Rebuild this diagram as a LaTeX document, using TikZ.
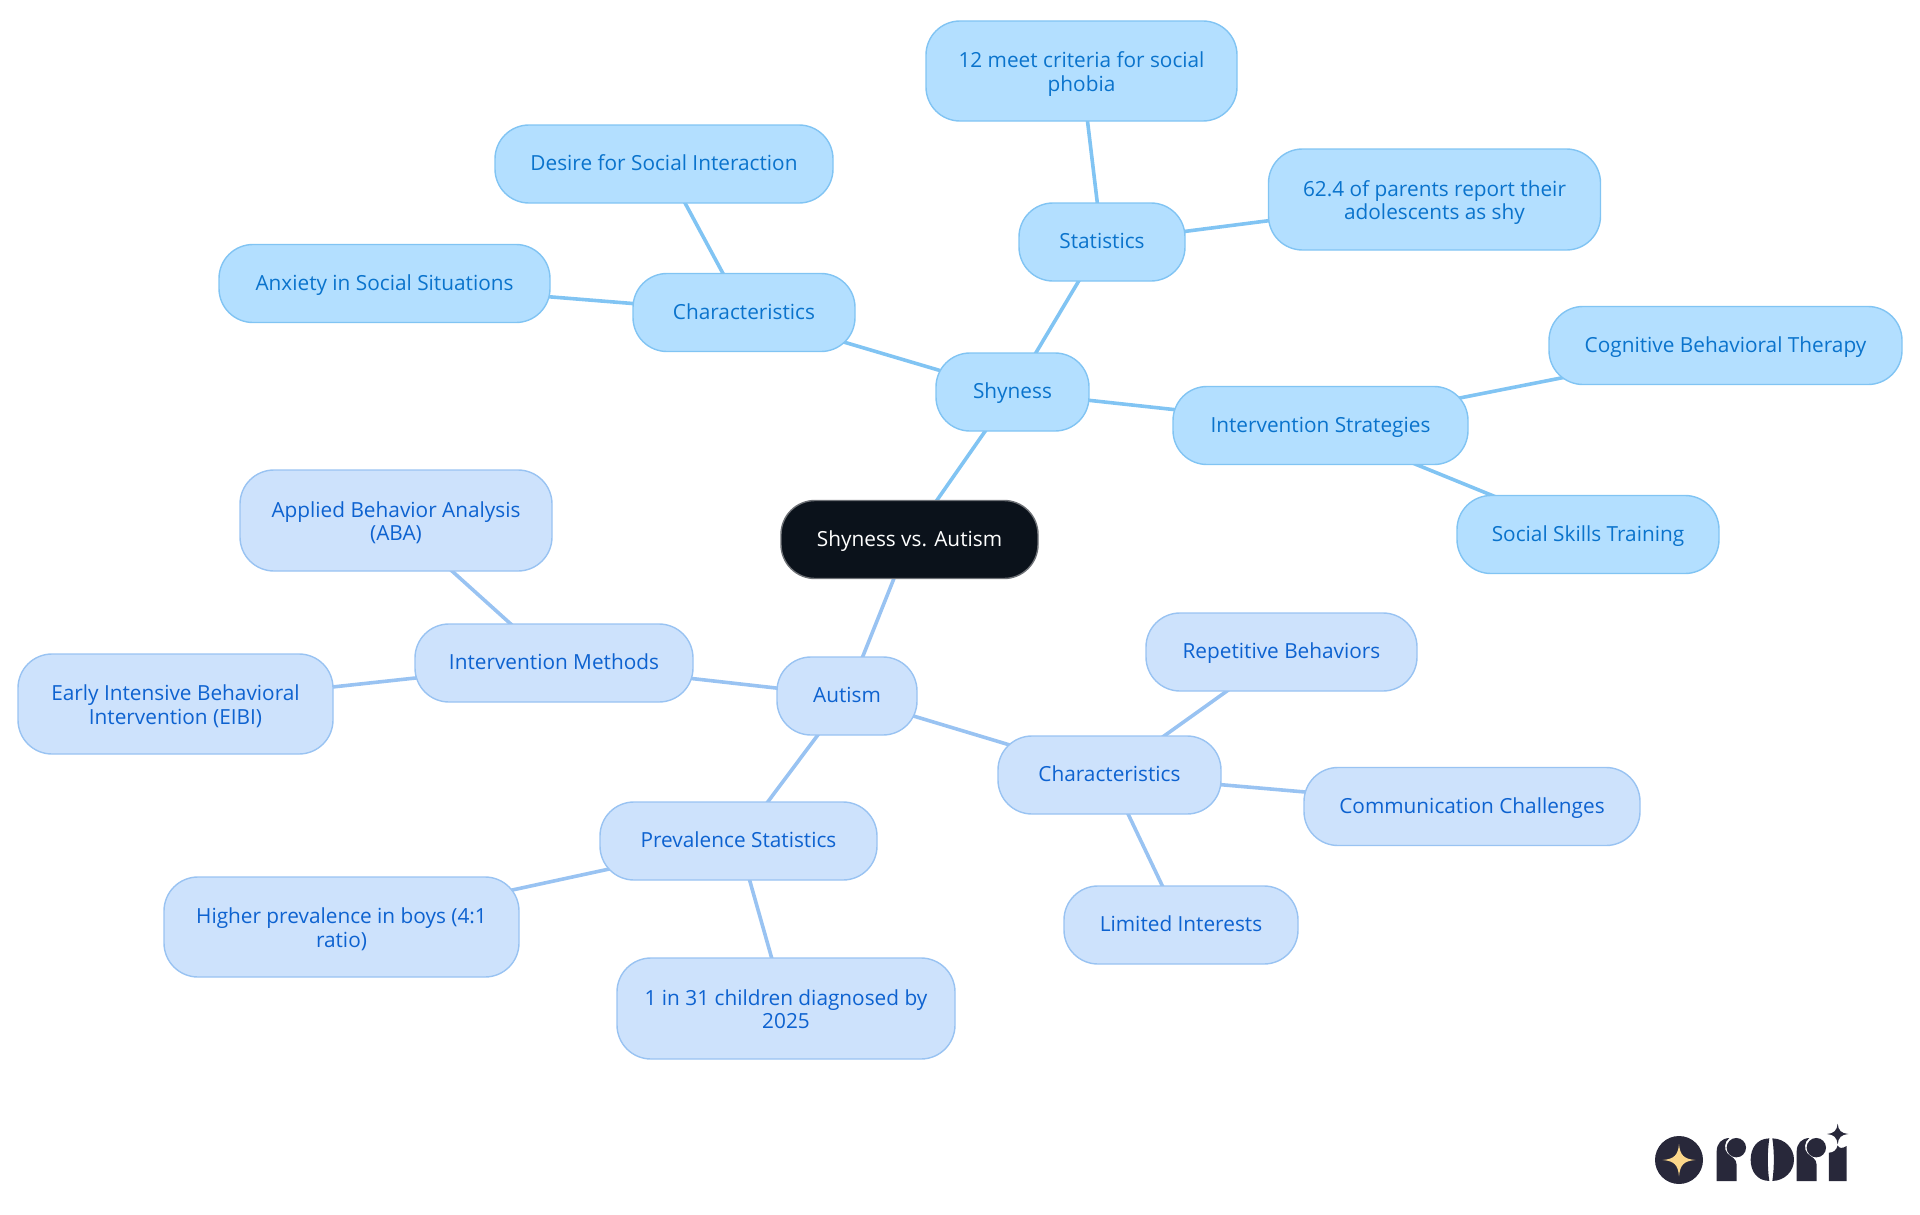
\documentclass[tikz,border=0pt]{standalone}
\usepackage{fontspec}
\setmainfont{Open Sans}[Scale=1]
\usetikzlibrary{backgrounds}
\definecolor{bfill}{HTML}{B3DFFF}
\definecolor{bline}{HTML}{81C4F3}
\definecolor{btext}{HTML}{0A73CC}
\definecolor{lfill}{HTML}{CDE2FC}
\definecolor{lline}{HTML}{99C3F2}
\definecolor{ltext}{HTML}{0D62D0}
\definecolor{rootfill}{HTML}{0B121B}
\definecolor{rootline}{HTML}{6E7176}
\definecolor{logodark}{HTML}{28283A}
\definecolor{logostar}{HTML}{FBD78A}
\newcommand{\lowstrut}{\rule[-0.22\baselineskip]{0pt}{\baselineskip}}
\newcommand{\tallstrut}{\rule{0pt}{22pt}}
\tikzset{
  base/.style={rounded corners=34pt,inner sep=0pt,line width=1.4pt,align=center,
    font=\fontsize{20.8}{23.5}\selectfont,
    execute at begin node={\lowstrut},execute at end node={\lowstrut}},
  bnode/.style={base,draw=bline,fill=bfill,text=btext},
  lnode/.style={base,draw=lline,fill=lfill,text=ltext},
  rootnode/.style={base,draw=rootline,fill=rootfill,text=white},
  bedge/.style={draw=bline,line width=3.6pt},
  ledge/.style={draw=lline,line width=3.6pt},
}
\begin{document}
\begin{tikzpicture}[x=1pt,y=-1pt]
\useasboundingbox (0,0) rectangle (1920,1215);
\node[rootnode,minimum width=257pt,minimum height=78pt] (root) at (909.5,539.5) {Shyness vs. Autism};
\node[bnode,minimum width=153pt,minimum height=78pt] (shy) at (1012.5,392) {Shyness};
\node[bnode,minimum width=222pt,minimum height=78pt] (shychar) at (744,312.5) {Characteristics};
\node[bnode,minimum width=166pt,minimum height=78pt] (stats) at (1102,242) {Statistics};
\node[bnode,minimum width=295pt,minimum height=78pt] (shyint) at (1320.5,425.5) {Intervention Strategies};
\node[bnode,minimum width=311pt,minimum height=100pt] (meet) at (1081.5,71) {\tallstrut 12 meet criteria for social\\phobia};
\node[bnode,minimum width=332pt,minimum height=101pt] (parents) at (1434.5,199.5) {\tallstrut 62.4 of parents report their\\adolescents as shy};
\node[bnode,minimum width=338pt,minimum height=78pt] (desire) at (664,164) {Desire for Social Interaction};
\node[bnode,minimum width=331pt,minimum height=78pt] (anxiety) at (384.5,283.5) {Anxiety in Social Situations};
\node[bnode,minimum width=353pt,minimum height=78pt] (cbt) at (1725.5,345.5) {Cognitive Behavioral Therapy};
\node[bnode,minimum width=262pt,minimum height=78pt] (sst) at (1588,534.5) {Social Skills Training};
\node[lnode,minimum width=140pt,minimum height=78pt] (autism) at (847,696) {Autism};
\node[lnode,minimum width=277pt,minimum height=78pt] (prev) at (738.5,841) {Prevalence Statistics};
\node[lnode,minimum width=278pt,minimum height=78pt] (autint) at (554,663) {Intervention Methods};
\node[lnode,minimum width=223pt,minimum height=78pt] (autchar) at (1109.5,775) {Characteristics};
\node[lnode,minimum width=312pt,minimum height=101pt] (aba) at (396,520.5) {\tallstrut Applied Behavior Analysis\\(ABA)};
\node[lnode,minimum width=315pt,minimum height=100pt] (eibi) at (175.5,704) {\tallstrut Early Intensive Behavioral\\Intervention (EIBI)};
\node[lnode,minimum width=271pt,minimum height=78pt] (rep) at (1281.5,652) {Repetitive Behaviors};
\node[lnode,minimum width=336pt,minimum height=78pt] (comm) at (1472,806.5) {Communication Challenges};
\node[lnode,minimum width=234pt,minimum height=78pt] (lim) at (1181,925) {Limited Interests};
\node[lnode,minimum width=355pt,minimum height=100pt] (boys) at (341.5,927) {\tallstrut Higher prevalence in boys (4:1\\ratio)};
\node[lnode,minimum width=338pt,minimum height=101pt] (diag) at (786,1008.5) {\tallstrut 1 in 31 children diagnosed by\\2025};
\begin{scope}[on background layer]
\draw[bedge] (root.center) -- (shy.center);
\draw[bedge] (shy.center) -- (shychar.center);
\draw[bedge] (shy.center) -- (stats.center);
\draw[bedge] (shy.center) -- (shyint.center);
\draw[bedge] (stats.center) -- (meet.center);
\draw[bedge] (stats.center) -- (parents.center);
\draw[bedge] (shychar.center) -- (desire.center);
\draw[bedge] (shychar.center) -- (anxiety.center);
\draw[bedge] (shyint.center) -- (cbt.center);
\draw[bedge] (shyint.center) -- (sst.center);
\draw[ledge] (root.center) -- (autism.center);
\draw[ledge] (autism.center) -- (prev.center);
\draw[ledge] (autism.center) -- (autint.center);
\draw[ledge] (autism.center) -- (autchar.center);
\draw[ledge] (autint.center) -- (aba.center);
\draw[ledge] (autint.center) -- (eibi.center);
\draw[ledge] (autchar.center) -- (rep.center);
\draw[ledge] (autchar.center) -- (comm.center);
\draw[ledge] (autchar.center) -- (lim.center);
\draw[ledge] (prev.center) -- (boys.center);
\draw[ledge] (prev.center) -- (diag.center);
\end{scope}
% logo (coordinates in the 3x crop)
\begin{scope}[shift={(1620,1100)},x=0.3333pt,y=-0.3333pt]
\fill[logodark] (177,180) circle[radius=24pt];
\fill[logostar] (177,132) .. controls (180,165) and (191,177) .. (226,180)
  .. controls (191,183) and (180,195) .. (177,229)
  .. controls (174,195) and (163,183) .. (128,180)
  .. controls (163,177) and (174,165) .. (177,132) -- cycle;
% r
\fill[logodark] (290,243) -- (290,155) .. controls (290,130) and (305,115) .. (328,114)
  .. controls (312,125) and (312,148) .. (322,160) .. controls (335,172) and (350,176) .. (350,195) -- (350,243) -- cycle;
\fill[logodark] (349,143) circle[radius=9.7pt];
% o
\fill[logodark] (448,115) .. controls (410,116) and (392,145) .. (392,179) .. controls (392,213) and (410,242) .. (448,243)
  .. controls (442,205) and (442,153) .. (448,115) -- cycle;
\fill[logodark] (457,115) .. controls (495,116) and (522,145) .. (522,179) .. controls (522,213) and (495,242) .. (457,243)
  .. controls (463,205) and (463,153) .. (457,115) -- cycle;
% r
\fill[logodark] (530,243) -- (530,155) .. controls (530,130) and (545,115) .. (568,114)
  .. controls (552,125) and (552,148) .. (562,160) .. controls (575,172) and (590,176) .. (590,195) -- (590,243) -- cycle;
\fill[logodark] (589,143) circle[radius=9.7pt];
% i
\fill[logodark] (627,243) -- (627,158) .. controls (640,158) and (650,150) .. (653,136) .. controls (657,146) and (668,146) .. (680,138) -- (680,243) -- cycle;
\fill[logodark] (653,71) .. controls (655,92) and (664,100) .. (685,102)
  .. controls (664,104) and (655,112) .. (653,133)
  .. controls (651,112) and (642,104) .. (621,102)
  .. controls (642,100) and (651,92) .. (653,71) -- cycle;
\end{scope}
\end{tikzpicture}
\end{document}
